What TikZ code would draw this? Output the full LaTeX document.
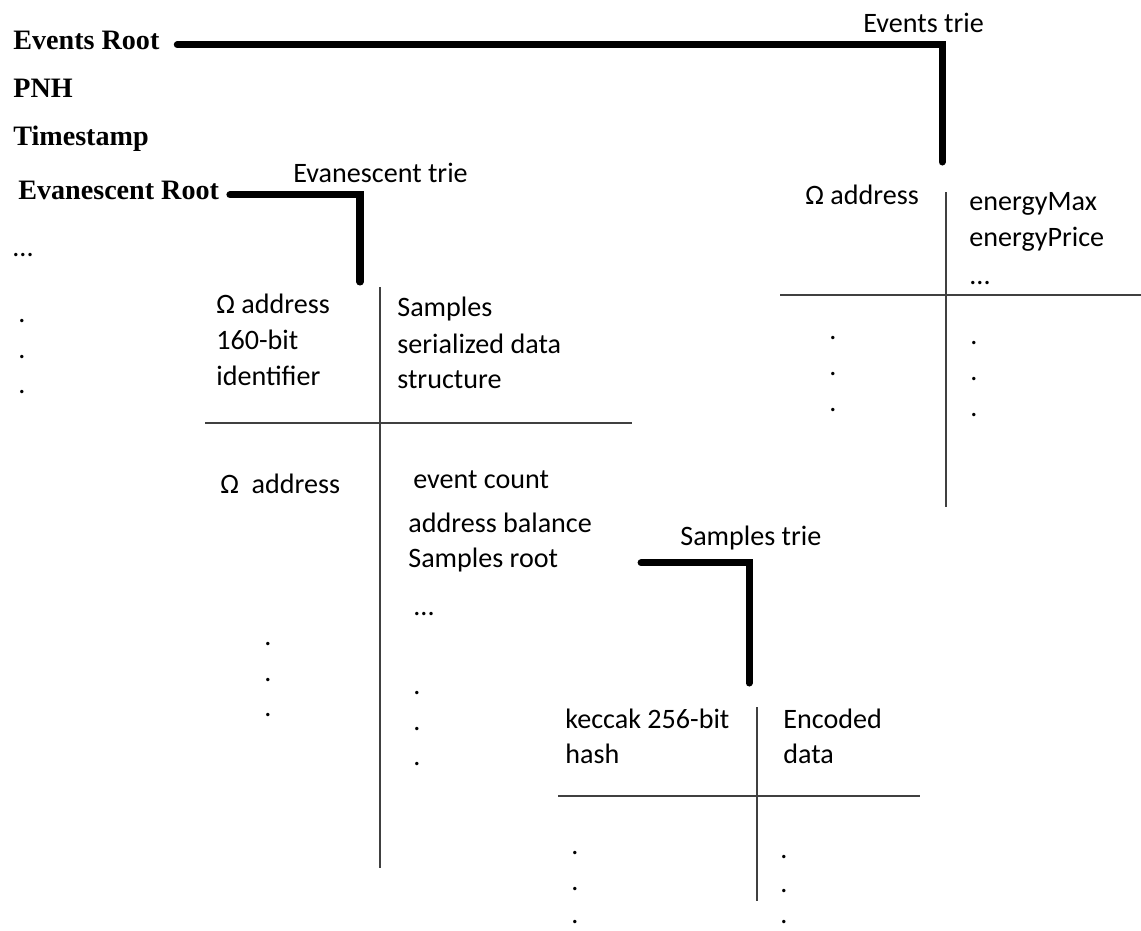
\documentclass[tikz,border=0pt]{standalone}
\usepackage{fontspec}
\setmainfont{Carlito}
\newfontfamily\rootfont{Liberation Serif}
\usepackage{tikz}
\tikzstyle{texto}=[inner sep=0pt,anchor=base west,font=\fontsize{16}{19}\selectfont]
\tikzstyle{raiz}=[inner sep=0pt,anchor=base west,font=\rootfont\bfseries\fontsize{16}{19}\selectfont]
\tikzstyle{punto}=[inner sep=0pt,font=\fontsize{16}{19}\selectfont]
\tikzstyle{rama}=[line width=4pt,line cap=round,line join=miter]
\tikzstyle{tabla}=[line width=1pt,black!75]

\begin{document}
\begin{tikzpicture}[x=0.02cm,y=-0.02cm]
    \useasboundingbox (0,0) rectangle (1141,930);
    % header
    \node [raiz] (evroot)  at (13,  49) {Events Root};
    \node [raiz] (pnh)     at (13,  97) {PNH};
    \node [raiz] (tstamp)  at (13, 145) {Timestamp};
    \node [raiz] (evaroot) at (18, 199) {Evanescent Root};
    \node [texto] (hmore)  at (12, 256) {...};
    \foreach \y [count=\i] in {321,357,392}
        \node [punto] (hd\i) at (22,\y) {.};

    % events trie
    \node [texto] (evlabel) at (863, 32) {Events trie};
    \coordinate (evtop) at (942,162);
    \draw [rama, shorten <=10pt] (evroot.mid east) -| (evtop);
    \draw [tabla] (946,192) -- (946,507);
    \draw [tabla] (780,295) -- (1141,295);
    \node [texto] (evkey)  at (805, 204) {Ω address};
    \node [texto] (evval1) at (969, 210) {energyMax};
    \node [texto] (evval2) at (969, 246) {energyPrice};
    \node [texto] (evval3) at (969, 284) {...};
    \foreach \y [count=\i] in {338,374,410}
        \node [punto] (evl\i) at (833,\y) {.};
    \foreach \y [count=\i] in {343,379,415}
        \node [punto] (evr\i) at (974,\y) {.};

    % evanescent trie
    \node [texto] (evalabel) at (293, 182) {Evanescent trie};
    \coordinate (evatop) at (360,282);
    \draw [rama, shorten <=6pt] (evaroot.mid east) -| (evatop);
    \draw [tabla] (380,287) -- (380,868);
    \draw [tabla] (205,423) -- (632,423);
    \node [texto] (evak1) at (216, 313) {Ω address};
    \node [texto] (evak2) at (216, 349) {160-bit};
    \node [texto] (evak3) at (216, 385) {identifier};
    \node [texto] (evav1) at (397, 316) {Samples};
    \node [texto] (evav2) at (397, 353) {serialized data};
    \node [texto] (evav3) at (397, 388) {structure};
    \node [texto] (evakey) at (220, 493) {Ω\ \ address};
    \node [texto] (evcount) at (413, 488) {event count};
    \node [texto] (evbal)   at (408, 532) {address balance};
    \node [texto] (sroot)   at (408, 567) {Samples root};
    \node [texto] (evamore) at (413, 615) {...};
    \foreach \y [count=\i] in {644,680,715}
        \node [punto] (eval\i) at (268,\y) {.};
    \foreach \y [count=\i] in {693,729,764}
        \node [punto] (evar\i) at (417,\y) {.};

    % samples trie
    \node [texto] (slabel) at (680, 545) {Samples trie};
    \coordinate (stop) at (749,683);
    \draw [rama, shorten <=47pt] (sroot.mid east) -| (stop);
    \draw [tabla] (757,707) -- (757,901);
    \draw [tabla] (558,796) -- (920,796);
    \node [texto] (sk1) at (565, 728) {keccak 256-bit};
    \node [texto] (sk2) at (565, 763) {hash};
    \node [texto] (sv1) at (783, 728) {Encoded};
    \node [texto] (sv2) at (783, 763) {data};
    \foreach \y [count=\i] in {853,889,922}
        \node [punto] (sl\i) at (575,\y) {.};
    \foreach \y [count=\i] in {857,891,922}
        \node [punto] (sr\i) at (784,\y) {.};
\end{tikzpicture}
\end{document}
